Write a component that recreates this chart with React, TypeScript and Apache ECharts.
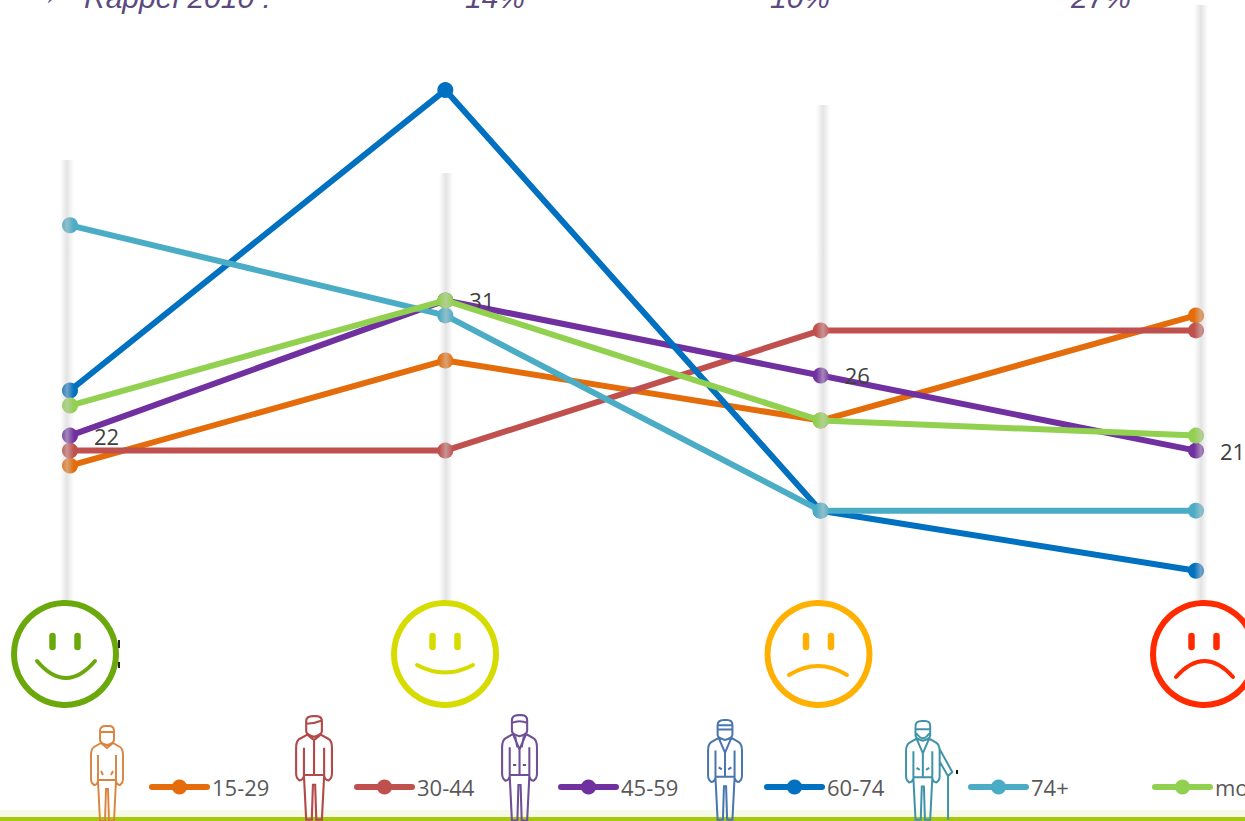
import React, { useEffect, useRef } from "react";
import * as echarts from "echarts";

const categories = ["1", "2", "3", "4"];
const s1529 = [20, 27, 23, 30];
const s3044 = [21, 21, 29, 29];
const s4559 = [22, 31, 26, 21];
const s6074 = [25, 45, 17, 13];
const s74p = [36, 30, 17, 17];
const sMoy = [24, 31, 23, 22];
const seriesNames = ["15-29", "30-44", "45-59", "60-74", "74+", "moyenne"];
const seriesColors = ["#E46C0A", "#C0504D", "#7030A0", "#0070C0", "#4BACC6", "#92D050"];
const seriesValues = [s1529, s3044, s4559, s6074, s74p, sMoy];
const legendLefts = [149, 354, 558, 764, 968, 1152];
const rappelTexts = ["Rappel 2010 :", "14%", "10%", "27%"];
const rappelX = [84, 465, 770, 1071];

const body = "M11,18 L4,22 Q1,24 1,30 L1,54 Q1,56 2,58 L4,60 Q7,60 8,56 L8,30 M26,30 L26,56 Q27,60 30,60 L32,58 Q33,56 33,54 L33,30 Q33,24 30,22 L23,18 M8,55 H26 M8,56 L10,96 H15 L16,64 H18 L19,96 H24 L26,56 ";
const head = "M10,15 V6 Q10,1 16,1 H19 Q24,1 24,6 V15 Q24,18 17,20 Q10,18 10,15 Z ";
const person1 = head + "M10,7 H24 " + body + "M11,18 L17,23 L23,18 M11,46 L13,50 M23,46 L21,50";
const person2 = head + "M10,8 Q17,8 24,5 " + body + "M11,18 L17,23 L23,18 M17,23 V55";
const person3 = head + "M10,8 Q17,5 24,8 " + body + "M11,18 L17,32 L23,18 M13,20 L15,30 M21,20 L19,30 M17,32 V55 M11,46 H14 M20,46 H23";
const person4 = head + "M10,6 H24 M10,10 H24 " + body + "M11,18 L17,32 L23,18 M17,32 V55 M11,46 L14,48 M20,48 L23,46";
const person5 = head + "M10,9 H24 M11,13 Q17,22 23,13 " + body + "M11,18 L17,32 L23,18 M17,32 V55 M11,46 L14,48 M20,48 L23,46 M33,28 L45,50 L41,54 L33,40 M41,53 V96";

echarts.graphic.registerShape("person1", echarts.graphic.extendPath(person1, {}));
echarts.graphic.registerShape("person2", echarts.graphic.extendPath(person2, {}));
echarts.graphic.registerShape("person3", echarts.graphic.extendPath(person3, {}));
echarts.graphic.registerShape("person4", echarts.graphic.extendPath(person4, {}));
echarts.graphic.registerShape("person5", echarts.graphic.extendPath(person5, {}));

const band = (x: number, top: number) => ({
  type: "rect",
  z: 100,
  silent: true,
  shape: { x: x - 7, y: top, width: 14, height: 600 - top },
  style: {
    fill: {
      type: "linear", x: 0, y: 0, x2: 1, y2: 0,
      colorStops: [
        { offset: 0, color: "rgba(205,205,205,0)" },
        { offset: 0.5, color: "rgba(205,205,205,0.55)" },
        { offset: 1, color: "rgba(205,205,205,0)" },
      ],
    },
  },
});

const face = (cx: number, color: string, eyeTop: number, mouth: number[]) => {
  const [x1, y1, x2, y2, cy] = mouth;
  const base = { stroke: color, fill: "none", lineCap: "round" };
  return [
    { type: "circle", z: 110, shape: { cx, cy: 654, r: 51 }, style: { stroke: color, lineWidth: 6, fill: "#fff" } },
    { type: "line", z: 111, shape: { x1: cx - 12.5, y1: eyeTop, x2: cx - 12.5, y2: eyeTop + 11 }, style: { ...base, lineWidth: 6.5 } },
    { type: "line", z: 111, shape: { x1: cx + 12.5, y1: eyeTop, x2: cx + 12.5, y2: eyeTop + 11 }, style: { ...base, lineWidth: 6.5 } },
    { type: "bezierCurve", z: 111, shape: { x1, y1, x2, y2, cpx1: (x1 + x2) / 2, cpy1: cy }, style: { ...base, lineWidth: 4 } },
  ];
};

const person = (n: number, x: number, y: number, sx: number, sy: number, color: string) => ({
  type: "person" + n,
  z: 120,
  x,
  y,
  scaleX: sx,
  scaleY: sy,
  style: { stroke: color, fill: "none", lineWidth: 1.9 },
});

export default function App() {
  const ref = useRef<HTMLDivElement>(null);
  useEffect(() => {
    const chart = echarts.init(ref.current!, null, { renderer: "svg" });
    chart.setOption({
      animation: false,
      backgroundColor: "#fff",
      grid: { left: 70, right: 49, top: -1, bottom: 55 },
      xAxis: { type: "category", data: categories, boundaryGap: false, show: false },
      yAxis: { type: "value", min: 0, max: 51, show: false },
      legend: seriesNames.map((name, i) => ({
        data: [name],
        left: legendLefts[i],
        top: 776,
        itemWidth: 55,
        itemHeight: 19,
        itemGap: 0,
        padding: 0,
        lineStyle: { width: 6, cap: "round" },
        textStyle: { color: "#595959", fontSize: 22, fontFamily: "Open Sans", padding: [0, 0, 0, 0] },
      })),
      series: seriesNames.map((name, i) => ({
        name,
        type: "line",
        data: seriesValues[i],
        z: 10 + i,
        clip: false,
        symbol: "circle",
        symbolSize: 16,
        showSymbol: true,
        lineStyle: { width: 6, color: seriesColors[i] },
        itemStyle: { color: seriesColors[i] },
        label: i === 2
          ? { show: true, position: "right", distance: 16, offset: [0, 0], color: "#404040", fontSize: 22, fontFamily: "Open Sans" }
          : { show: false },
      })),
      graphic: [
        { type: "text", z: 130, x: 29, y: -22, style: { text: "→", fill: "#5B4A80", font: "italic 30px 'Liberation Sans'" } },
        ...rappelTexts.map((t, i) => ({
          type: "text",
          z: 130,
          x: rappelX[i],
          y: -18,
          style: { text: t, fill: "#5B4A80", font: "italic 30px 'Liberation Sans'" },
        })),
        band(67, 160),
        band(446, 173),
        band(823, 105),
        band(1201, 5),
        ...face(65, "#6AA80C", 636, [37, 661, 95, 661, 695]),
        { type: "rect", z: 112, shape: { x: 118, y: 640, width: 2, height: 8 }, style: { fill: "#222" } },
        { type: "rect", z: 112, shape: { x: 118, y: 662, width: 2, height: 6 }, style: { fill: "#222" } },
        ...face(445, "#D6DC00", 636, [417, 665, 473, 665, 680]),
        ...face(818.5, "#FFB000", 636, [789, 675, 847, 675, 657]),
        ...face(1204, "#FF2A00", 636, [1176, 677, 1233, 677, 645]),
        { type: "rect", z: 90, shape: { x: 0, y: 810, width: 1245, height: 7 }, style: { fill: "#F6FAE6" } },
        { type: "rect", z: 91, shape: { x: 0, y: 817, width: 1245, height: 4 }, style: { fill: "#A6C80F" } },
        person(1, 90, 725, 1, 1, "#D9833F"),
        person(2, 295, 715, 1.12, 1.09, "#B24A4A"),
        person(3, 501, 714, 1.09, 1.11, "#6F4F96"),
        person(4, 707, 719, 1.06, 1.05, "#4A76AE"),
        person(5, 905, 720, 1.05, 1.04, "#3F93A8"),
        { type: "rect", z: 121, shape: { x: 956, y: 770, width: 2, height: 4 }, style: { fill: "#111" } },
      ],
    });
    return () => chart.dispose();
  }, []);
  return <div ref={ref} style={{ position: "fixed", left: 0, top: 0, width: 1245, height: 821, overflow: "hidden" }} />;
}
